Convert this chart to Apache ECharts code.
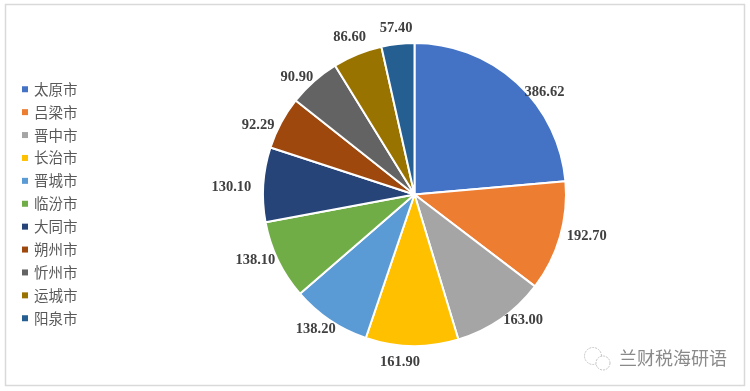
<!DOCTYPE html>
<html>
<head>
<meta charset="utf-8">
<style>html,body{margin:0;padding:0;background:#fff}#chart{width:750px;height:391px}</style>
<script src="https://cdn.jsdelivr.net/npm/echarts@6/dist/echarts.min.js"></script>
</head>
<body>
<div id="chart"></div>
<script>
var cities = ["太原市","吕梁市","晋中市","长治市","晋城市","临汾市","大同市","朔州市","忻州市","运城市","阳泉市"];
var values = [386.62,192.70,163.00,161.90,138.20,138.10,130.10,92.29,90.90,86.60,57.40];
var colors = ["#4472c4","#ed7d31","#a5a5a5","#ffc000","#5b9bd5","#70ad47","#264478","#9e480e","#636363","#997300","#255e91"];
// label nudges, same order as cities
var labelDx = [-2,-4,-7,15,15,8,-1,4,9,17,22];
var labelDy = [12,-2,-2,12,6,-2,3,4,-1,-13,-12];

var chart = echarts.init(document.getElementById("chart"));
var pieData = cities.map(function (name, i) {
  return { name: name, value: values[i], itemStyle: { color: colors[i] } };
});
chart.setOption({
  animation: false,
  legend: {
    orient: "vertical",
    left: 22,
    top: 82,
    padding: 0,
    icon: "rect",
    itemWidth: 6,
    itemHeight: 6,
    itemGap: 8.4,
    itemStyle: { borderWidth: 0 },
    textStyle: { color: "#595959", fontSize: 14.5, lineHeight: 14, fontFamily: "Noto Sans CJK SC", padding: [0, 0, 0, 1] },
    data: cities
  },
  series: [{
    type: "pie",
    center: [414.5, 194.5],
    radius: [0, 151.5],
    startAngle: 90,
    clockwise: true,
    avoidLabelOverlap: false,
    itemStyle: { borderColor: "#fff", borderWidth: 2 },
    label: {
      show: true,
      position: "outside",
      formatter: function (p) { return p.value.toFixed(2); },
      color: "#404040",
      fontSize: 14.5,
      fontWeight: "bold",
      fontFamily: "Liberation Serif"
    },
    labelLine: { show: false, length: 4, length2: 2 },
    labelLayout: function (p) {
      return { dx: labelDx[p.dataIndex], dy: labelDy[p.dataIndex] };
    },
    data: pieData
  }],
  graphic: [
    { type: "rect", shape: { x: 5.5, y: 4.5, width: 739, height: 381 }, style: { fill: "none", stroke: "#d9d9d9", lineWidth: 1.5 }, z: -1 },
    { type: "text", left: 619, top: 349, style: { text: "兰财税海研语", fill: "#8a8a8a", font: "18px 'Noto Sans CJK SC'" } },
    { type: "circle", shape: { cx: 593, cy: 356, r: 8.5 }, style: { fill: "#fff", stroke: "#c4c4c4", lineWidth: 1, lineDash: [2, 1] } },
    { type: "circle", shape: { cx: 603, cy: 363, r: 7 }, style: { fill: "#fff", stroke: "#c4c4c4", lineWidth: 1, lineDash: [2, 1] } }
  ]
});
</script>
</body>
</html>
